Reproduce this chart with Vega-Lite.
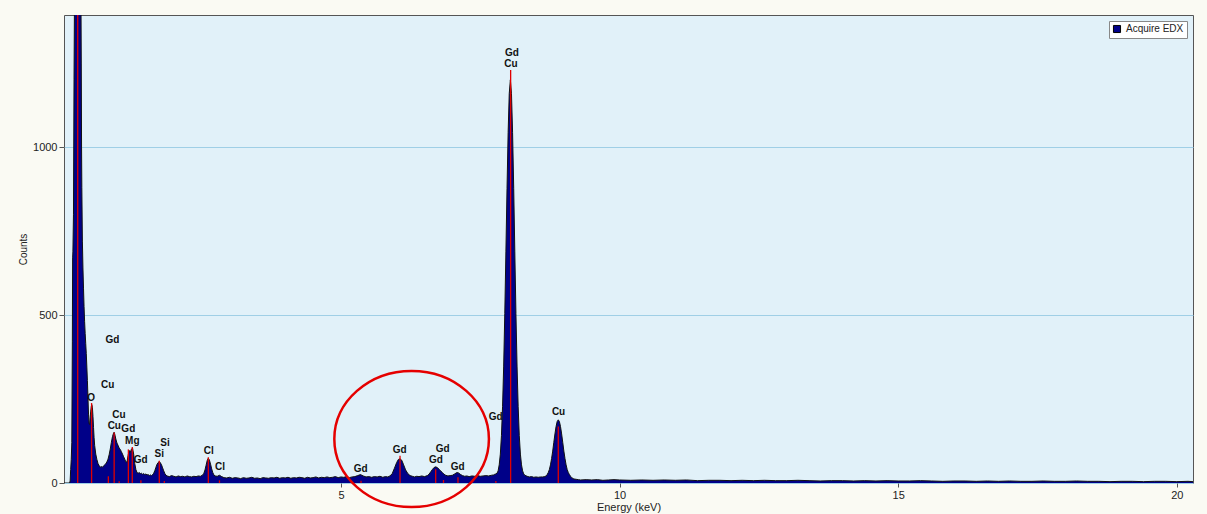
{
  "$schema": "https://vega.github.io/schema/vega-lite/v6.json",
  "autosize": {"type": "none"},
  "padding": {"left": 64, "top": 15, "right": 14, "bottom": 31},
  "width": 1129,
  "height": 468,
  "background": "#FAFAF3",
  "config": {
    "view": {"fill": "#E1F1F9", "stroke": "#555555", "strokeWidth": 1},
    "font": "Liberation Sans",
    "axis": {"labelFont": "Liberation Sans", "titleFont": "Liberation Sans", "labelColor": "#222222", "titleColor": "#222222", "titleFontWeight": "normal", "tickColor": "#555555", "domain": false},
    "legend": {"labelFont": "Liberation Sans"}
  },
  "datasets": {
    "spec": [
      {"e":0.03,"c":0},{"e":0.10,"c":0},{"e":0.13,"c":0},{"e":0.14,"c":6},{"e":0.15,"c":40},{"e":0.16,"c":70},{"e":0.17,"c":120},{"e":0.18,"c":420},{"e":0.185,"c":670},{"e":0.19,"c":690},{"e":0.20,"c":800},{"e":0.21,"c":1200},{"e":0.22,"c":1500},{"e":0.24,"c":2400},{"e":0.26,"c":3200},{"e":0.28,"c":3500},{"e":0.30,"c":3100},{"e":0.32,"c":2200},{"e":0.33,"c":1600},{"e":0.34,"c":1250},{"e":0.345,"c":1000},{"e":0.35,"c":880},{"e":0.36,"c":720},{"e":0.37,"c":640},{"e":0.38,"c":580},{"e":0.39,"c":525},{"e":0.40,"c":480},{"e":0.41,"c":445},{"e":0.42,"c":415},{"e":0.43,"c":385},{"e":0.44,"c":345},{"e":0.45,"c":305},{"e":0.46,"c":255},{"e":0.47,"c":205},{"e":0.48,"c":178},{"e":0.49,"c":174},{"e":0.50,"c":196},{"e":0.51,"c":214},{"e":0.52,"c":228},{"e":0.53,"c":233},{"e":0.54,"c":224},{"e":0.55,"c":198},{"e":0.56,"c":165},{"e":0.57,"c":135},{"e":0.58,"c":112},{"e":0.60,"c":86},{"e":0.62,"c":70},{"e":0.64,"c":58},{"e":0.66,"c":52},{"e":0.68,"c":47},{"e":0.70,"c":49},{"e":0.72,"c":47},{"e":0.74,"c":51},{"e":0.76,"c":54},{"e":0.78,"c":57},{"e":0.80,"c":63},{"e":0.82,"c":71},{"e":0.84,"c":84},{"e":0.86,"c":101},{"e":0.88,"c":121},{"e":0.90,"c":138},{"e":0.92,"c":149},{"e":0.93,"c":151},{"e":0.94,"c":146},{"e":0.96,"c":131},{"e":0.98,"c":119},{"e":1.00,"c":112},{"e":1.02,"c":104},{"e":1.04,"c":100},{"e":1.06,"c":93},{"e":1.08,"c":86},{"e":1.10,"c":78},{"e":1.12,"c":71},{"e":1.14,"c":63},{"e":1.16,"c":62},{"e":1.18,"c":82},{"e":1.20,"c":97},{"e":1.22,"c":91},{"e":1.24,"c":101},{"e":1.26,"c":104},{"e":1.28,"c":86},{"e":1.30,"c":58},{"e":1.32,"c":40},{"e":1.34,"c":31},{"e":1.36,"c":29},{"e":1.38,"c":31},{"e":1.40,"c":28},{"e":1.42,"c":29},{"e":1.44,"c":26},{"e":1.46,"c":28},{"e":1.48,"c":25},{"e":1.50,"c":27},{"e":1.52,"c":24},{"e":1.54,"c":25},{"e":1.56,"c":22},{"e":1.58,"c":24},{"e":1.60,"c":22},{"e":1.62,"c":25},{"e":1.64,"c":29},{"e":1.66,"c":37},{"e":1.68,"c":47},{"e":1.70,"c":56},{"e":1.72,"c":61},{"e":1.74,"c":64},{"e":1.76,"c":60},{"e":1.78,"c":54},{"e":1.80,"c":45},{"e":1.82,"c":36},{"e":1.84,"c":28},{"e":1.86,"c":23},{"e":1.88,"c":21},{"e":1.92,"c":19},{"e":1.96,"c":22},{"e":2.00,"c":20},{"e":2.04,"c":18},{"e":2.08,"c":21},{"e":2.12,"c":19},{"e":2.16,"c":20},{"e":2.20,"c":18},{"e":2.24,"c":21},{"e":2.28,"c":19},{"e":2.32,"c":18},{"e":2.36,"c":20},{"e":2.40,"c":19},{"e":2.44,"c":21},{"e":2.48,"c":20},{"e":2.52,"c":24},{"e":2.54,"c":29},{"e":2.56,"c":39},{"e":2.58,"c":53},{"e":2.60,"c":67},{"e":2.62,"c":74},{"e":2.64,"c":68},{"e":2.66,"c":56},{"e":2.68,"c":42},{"e":2.70,"c":31},{"e":2.72,"c":24},{"e":2.74,"c":21},{"e":2.78,"c":20},{"e":2.82,"c":23},{"e":2.86,"c":19},{"e":2.90,"c":16},{"e":2.95,"c":15},{"e":3.00,"c":17},{"e":3.05,"c":14},{"e":3.10,"c":16},{"e":3.15,"c":15},{"e":3.20,"c":13},{"e":3.25,"c":16},{"e":3.30,"c":14},{"e":3.35,"c":15},{"e":3.40,"c":17},{"e":3.45,"c":14},{"e":3.50,"c":15},{"e":3.55,"c":13},{"e":3.60,"c":16},{"e":3.65,"c":15},{"e":3.70,"c":14},{"e":3.75,"c":16},{"e":3.80,"c":15},{"e":3.85,"c":17},{"e":3.90,"c":14},{"e":3.95,"c":16},{"e":4.00,"c":15},{"e":4.05,"c":17},{"e":4.10,"c":14},{"e":4.15,"c":16},{"e":4.20,"c":15},{"e":4.25,"c":17},{"e":4.30,"c":16},{"e":4.35,"c":14},{"e":4.40,"c":17},{"e":4.45,"c":15},{"e":4.50,"c":16},{"e":4.55,"c":18},{"e":4.60,"c":15},{"e":4.65,"c":17},{"e":4.70,"c":16},{"e":4.75,"c":18},{"e":4.80,"c":16},{"e":4.85,"c":17},{"e":4.90,"c":19},{"e":4.95,"c":16},{"e":5.00,"c":18},{"e":5.05,"c":17},{"e":5.10,"c":19},{"e":5.15,"c":16},{"e":5.20,"c":18},{"e":5.25,"c":19},{"e":5.30,"c":22},{"e":5.35,"c":25},{"e":5.40,"c":21},{"e":5.45,"c":18},{"e":5.50,"c":19},{"e":5.55,"c":17},{"e":5.60,"c":19},{"e":5.65,"c":18},{"e":5.70,"c":20},{"e":5.75,"c":17},{"e":5.80,"c":19},{"e":5.84,"c":18},{"e":5.88,"c":21},{"e":5.92,"c":28},{"e":5.96,"c":44},{"e":6.00,"c":61},{"e":6.03,"c":70},{"e":6.06,"c":72},{"e":6.09,"c":68},{"e":6.12,"c":56},{"e":6.16,"c":39},{"e":6.20,"c":28},{"e":6.24,"c":22},{"e":6.28,"c":20},{"e":6.32,"c":18},{"e":6.36,"c":20},{"e":6.40,"c":19},{"e":6.45,"c":21},{"e":6.50,"c":19},{"e":6.55,"c":22},{"e":6.58,"c":26},{"e":6.61,"c":33},{"e":6.64,"c":40},{"e":6.67,"c":46},{"e":6.70,"c":48},{"e":6.73,"c":46},{"e":6.76,"c":41},{"e":6.79,"c":36},{"e":6.82,"c":31},{"e":6.85,"c":26},{"e":6.88,"c":23},{"e":6.92,"c":21},{"e":6.96,"c":22},{"e":7.00,"c":23},{"e":7.04,"c":27},{"e":7.08,"c":31},{"e":7.11,"c":30},{"e":7.14,"c":26},{"e":7.18,"c":22},{"e":7.22,"c":20},{"e":7.26,"c":21},{"e":7.30,"c":19},{"e":7.35,"c":21},{"e":7.40,"c":20},{"e":7.45,"c":22},{"e":7.50,"c":20},{"e":7.55,"c":21},{"e":7.60,"c":22},{"e":7.65,"c":21},{"e":7.70,"c":23},{"e":7.74,"c":24},{"e":7.76,"c":26},{"e":7.78,"c":27},{"e":7.80,"c":29},{"e":7.82,"c":36},{"e":7.84,"c":54},{"e":7.86,"c":86},{"e":7.88,"c":141},{"e":7.90,"c":227},{"e":7.92,"c":348},{"e":7.94,"c":505},{"e":7.96,"c":688},{"e":7.98,"c":877},{"e":8.00,"c":1043},{"e":8.02,"c":1159},{"e":8.04,"c":1200},{"e":8.06,"c":1159},{"e":8.08,"c":1043},{"e":8.10,"c":877},{"e":8.12,"c":688},{"e":8.14,"c":505},{"e":8.16,"c":348},{"e":8.18,"c":227},{"e":8.20,"c":141},{"e":8.22,"c":86},{"e":8.24,"c":54},{"e":8.26,"c":36},{"e":8.28,"c":27},{"e":8.30,"c":23},{"e":8.34,"c":20},{"e":8.38,"c":18},{"e":8.42,"c":19},{"e":8.46,"c":17},{"e":8.50,"c":18},{"e":8.54,"c":17},{"e":8.58,"c":18},{"e":8.62,"c":18},{"e":8.66,"c":19},{"e":8.68,"c":21},{"e":8.70,"c":25},{"e":8.72,"c":31},{"e":8.74,"c":40},{"e":8.76,"c":54},{"e":8.78,"c":73},{"e":8.80,"c":95},{"e":8.82,"c":121},{"e":8.84,"c":146},{"e":8.86,"c":168},{"e":8.88,"c":183},{"e":8.90,"c":188},{"e":8.92,"c":183},{"e":8.94,"c":168},{"e":8.96,"c":146},{"e":8.98,"c":121},{"e":9.00,"c":95},{"e":9.02,"c":73},{"e":9.04,"c":54},{"e":9.06,"c":40},{"e":9.08,"c":31},{"e":9.10,"c":25},{"e":9.12,"c":20},{"e":9.14,"c":16},{"e":9.18,"c":12},{"e":9.22,"c":11},{"e":9.26,"c":10},{"e":9.30,"c":9},{"e":9.40,"c":10},{"e":9.50,"c":9},{"e":9.60,"c":10},{"e":9.70,"c":8},{"e":9.80,"c":9},{"e":9.90,"c":10},{"e":10.0,"c":9},{"e":10.2,"c":8},{"e":10.4,"c":9},{"e":10.6,"c":8},{"e":10.8,"c":9},{"e":11.0,"c":8},{"e":11.2,"c":9},{"e":11.4,"c":7},{"e":11.6,"c":8},{"e":11.8,"c":8},{"e":12.0,"c":7},{"e":12.2,"c":8},{"e":12.4,"c":7},{"e":12.6,"c":8},{"e":12.8,"c":7},{"e":13.0,"c":7},{"e":13.2,"c":8},{"e":13.4,"c":7},{"e":13.6,"c":6},{"e":13.8,"c":7},{"e":14.0,"c":7},{"e":14.2,"c":6},{"e":14.4,"c":7},{"e":14.6,"c":6},{"e":14.8,"c":7},{"e":15.0,"c":6},{"e":15.2,"c":6},{"e":15.4,"c":7},{"e":15.6,"c":6},{"e":15.8,"c":5},{"e":16.0,"c":6},{"e":16.2,"c":6},{"e":16.4,"c":5},{"e":16.6,"c":6},{"e":16.8,"c":5},{"e":17.0,"c":6},{"e":17.2,"c":5},{"e":17.4,"c":5},{"e":17.6,"c":6},{"e":17.8,"c":5},{"e":18.0,"c":5},{"e":18.2,"c":6},{"e":18.4,"c":5},{"e":18.6,"c":5},{"e":18.8,"c":4},{"e":19.0,"c":5},{"e":19.2,"c":5},{"e":19.4,"c":4},{"e":19.6,"c":5},{"e":19.8,"c":5},{"e":20.0,"c":4},{"e":20.2,"c":5},{"e":20.29,"c":4}
    ],
    "markers": [
      {"e":0.276,"c":3000},{"e":0.525,"c":238},{"e":0.826,"c":20},{"e":0.93,"c":150},{"e":1.02,"c":5},{"e":1.185,"c":100},{"e":1.255,"c":107},{"e":1.41,"c":8},{"e":1.74,"c":66},{"e":1.83,"c":6},{"e":2.62,"c":77},{"e":2.82,"c":8},{"e":5.36,"c":7},{"e":6.06,"c":81},{"e":6.70,"c":41},{"e":6.84,"c":9},{"e":7.10,"c":17},{"e":7.78,"c":6},{"e":8.045,"c":1229},{"e":8.90,"c":168}
    ],
    "labels": [
      {"e":0.897,"c":426,"t":"Gd"},{"e":0.814,"c":292,"t":"Cu"},{"e":0.515,"c":254,"t":"O"},{"e":1.017,"c":202,"t":"Cu"},{"e":0.933,"c":170,"t":"Cu"},{"e":1.184,"c":160,"t":"Gd"},{"e":1.256,"c":125,"t":"Mg"},{"e":1.406,"c":67,"t":"Gd"},{"e":1.842,"c":120,"t":"Si"},{"e":1.740,"c":85,"t":"Si"},{"e":2.626,"c":95,"t":"Cl"},{"e":2.829,"c":48,"t":"Cl"},{"e":5.353,"c":42,"t":"Gd"},{"e":6.053,"c":98,"t":"Gd"},{"e":6.824,"c":102,"t":"Gd"},{"e":6.704,"c":69,"t":"Gd"},{"e":7.093,"c":48,"t":"Gd"},{"e":7.775,"c":197,"t":"Gd"},{"e":8.068,"c":1281,"t":"Gd"},{"e":8.05,"c":1246,"t":"Cu"},{"e":8.905,"c":210,"t":"Cu"}
    ],
    "circle": [{"e":6.268,"c":131}]
  },
  "encoding": {
    "x": {"field": "e", "type": "quantitative", "scale": {"domain": [0.03, 20.29], "nice": false, "zero": false},
      "axis": {"values": [5, 10, 15, 20], "title": "Energy (keV)", "grid": false, "tickSize": 4, "labelFontSize": 11, "titleFontSize": 11, "labelPadding": 2, "titlePadding": 1}},
    "y": {"field": "c", "type": "quantitative", "scale": {"domain": [0, 1393], "nice": false},
      "axis": {"values": [0, 500, 1000], "format": "d", "title": "Counts", "grid": true, "gridColor": "#9FCFE6", "gridWidth": 1, "tickSize": 5, "labelPadding": 2, "labelFontSize": 11, "titleFontSize": 10, "titlePadding": 4}}
  },
  "layer": [
    {
      "data": {"name": "spec"},
      "mark": {"type": "area", "clip": true, "interpolate": "linear"},
      "encoding": {
        "color": {"datum": "Acquire EDX", "type": "nominal", "scale": {"range": ["#000088"]},
          "legend": {"title": null, "orient": "top-right", "offset": 6, "padding": 3, "fillColor": "#FFFFFF", "strokeColor": "#888888", "symbolType": "square", "symbolSize": 50, "symbolStrokeColor": "#000000", "symbolStrokeWidth": 1, "labelFontSize": 10, "labelColor": "#222222", "symbolOpacity": 1}}
      }
    },
    {
      "data": {"name": "spec"},
      "mark": {"type": "line", "clip": true, "color": "#111111", "strokeWidth": 1},
      "encoding": {}
    },
    {
      "data": {"name": "markers"},
      "mark": {"type": "rule", "clip": true, "color": "#E00000", "strokeWidth": 1.3},
      "encoding": {"y2": {"datum": 0}}
    },
    {
      "data": {"name": "labels"},
      "mark": {"type": "text", "font": "Liberation Sans", "fontWeight": "bold", "fontSize": 10, "color": "#111111", "align": "center", "baseline": "middle"},
      "encoding": {"text": {"field": "t", "type": "nominal"}}
    },
    {
      "data": {"name": "circle"},
      "mark": {"type": "point", "shape": "M -1 0 A 1 0.88 0 1 1 1 0 A 1 0.88 0 1 1 -1 0 Z", "size": 23900, "filled": false, "color": "#E50000", "strokeWidth": 2.5, "opacity": 1},
      "encoding": {}
    }
  ]
}
